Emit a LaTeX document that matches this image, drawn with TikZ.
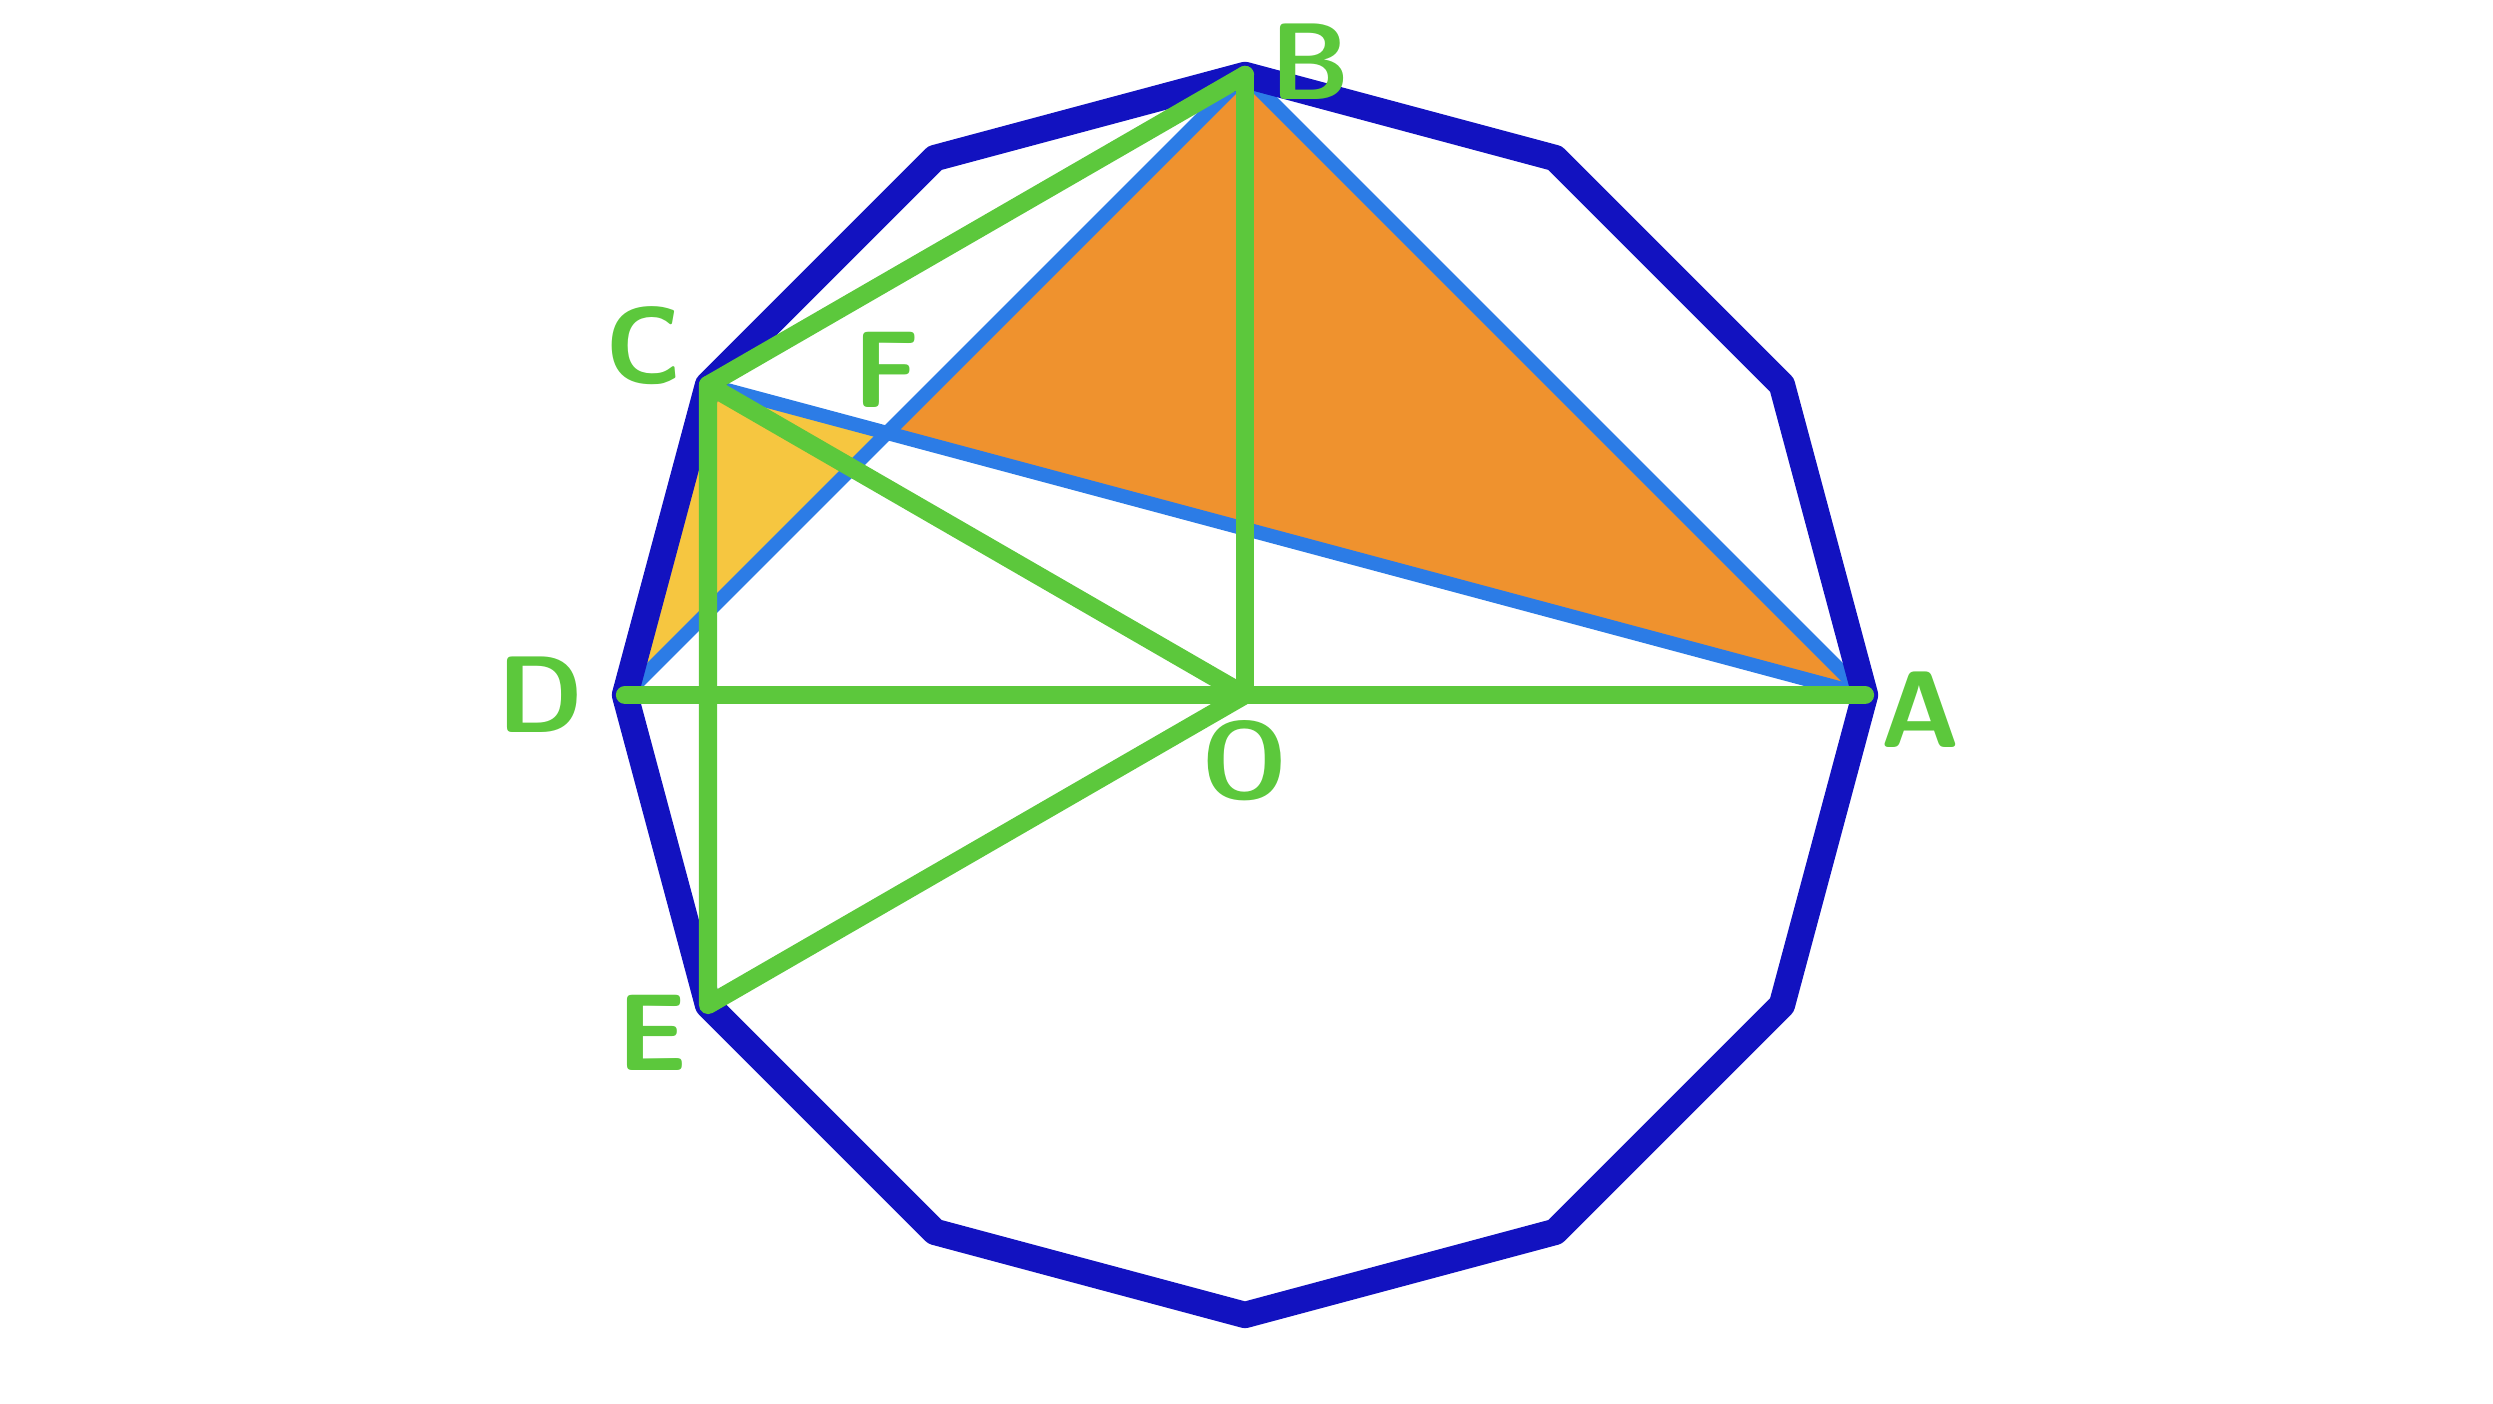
\documentclass[tikz,border=0pt]{standalone}
\usetikzlibrary{positioning,calc}
\definecolor{polyblue}{HTML}{1212C0}
\definecolor{chordblue}{HTML}{2C7CE6}
\definecolor{linegreen}{HTML}{5CC83C}
\definecolor{fillorange}{HTML}{EF922E}
\definecolor{fillyellow}{HTML}{F6C640}

\begin{document}
\begin{tikzpicture}[
    polygon/.style={draw=polyblue, line width=7.5pt, line join=round},
    chord/.style={draw=chordblue, line width=4pt, line cap=round},
    segment/.style={draw=linegreen, line width=5.2pt, line cap=round, line join=round},
    lbl/.style={text=linegreen, font=\fontsize{31}{31}\selectfont\sffamily\bfseries, inner sep=0pt},
]
    \useasboundingbox (0,0) rectangle (24.93,14.04);
    %points
    \coordinate (O) at (12.45,7.09);
    \foreach \i in {0,...,11}
        \coordinate (v\i) at ($(O)+(30*\i:6.2)$);
    \coordinate (A) at (v0);
    \coordinate (B) at (v3);
    \coordinate (C) at (v5);
    \coordinate (D) at (v6);
    \coordinate (E) at (v7);
    \coordinate (F) at (intersection of B--D and C--A);

    %fills
    \fill[fillorange] (F) -- (B) -- (A) -- cycle;
    \fill[fillyellow] (C) -- (D) -- (F) -- cycle;

    %lines
    \draw[chord] (B) -- (D);
    \draw[chord] (C) -- (A);
    \draw[chord] (B) -- (A);
    \draw[polygon] (v0) \foreach \i in {1,...,11} {-- (v\i)} -- cycle;
    \draw[segment] (D) -- (A);
    \draw[segment] (B) -- (O);
    \draw[segment] (C) -- (B);
    \draw[segment] (C) -- (O) -- (E) -- (C);

    %labels
    \node[lbl] (labA) [right=0.15 of A, yshift=-0.15cm] {A};
    \node[lbl] (labB) [above right=-0.25 and 0.25 of B] {B};
    \node[lbl] (labC) [above left=0.0 and 0.25 of C] {C};
    \node[lbl] (labD) [left=0.4 of D] {D};
    \node[lbl] (labE) [below left=-0.1 and 0.2 of E] {E};
    \node[lbl] (labF) [above=0.25 of F] {F};
    \node[lbl] (labO) [below=0.25 of O] {O};
\end{tikzpicture}
\end{document}
